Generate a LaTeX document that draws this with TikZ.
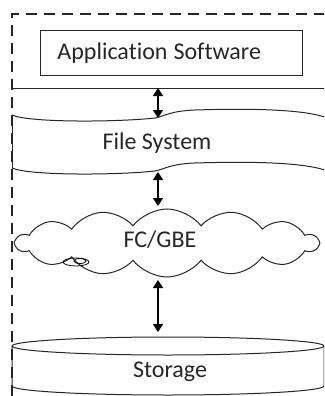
\documentclass[tikz,border=0pt]{standalone}
\usepackage{fontspec}
\setmainfont{Carlito}[Ligatures=NoCommon]
\usetikzlibrary{arrows.meta,shapes.symbols}
\tikzset{
  layerbox/.style={draw=black!85, line width=0.9pt, align=left, font=\fontsize{24}{28}\selectfont},
  layerline/.style={draw=black!85, line width=1pt},
  layertext/.style={text=black!85, font=\fontsize{24}{28}\selectfont, inner sep=0pt},
  framedash/.style={draw=black!85, line width=1.6pt, dash pattern=on 11pt off 7pt},
  layerarrow/.style={{Triangle[width=10pt,length=8pt]}-{Triangle[width=10pt,length=8pt]}, line width=1.4pt, draw=black}
}

\begin{document}
\begin{tikzpicture}[x=1pt,y=-1pt]
\useasboundingbox (0,0) rectangle (324,396);
\clip (0,0) rectangle (324,396);
% outer frame
\draw[framedash] (12,396) -- (12,14) -- (330,14);
% application layer
\node[layerbox, text=black!85, minimum height=45pt, text width=228pt, inner xsep=17pt, anchor=north west] (app) at (40,30) {Application\hspace{-2pt} Software};
\draw[layerline] (12,88) -- (330,88);
\coordinate (appbase) at (158,88);
% file system
\foreach \dy in {0,53}{
  \draw[layerline, yshift=-\dy pt] (12,115) .. controls (30,123) and (120,122) .. (155,118)
    .. controls (165,116) and (170,111) .. (195,110)
    .. controls (260,108) and (310,110) .. (330,119);
}
\draw[layerline] (12,115) -- (12,168);
\node[layertext] (fs) at (157,143) {File System};
\coordinate (fstop) at (158,118);
\coordinate (fsbot) at (158,172);
% network
\node[cloud, draw=black!85, line width=1pt, cloud puffs=14, cloud puff arc=105, aspect=4.3,
  minimum width=302pt, minimum height=68pt] (net) at (167,243) {};
\node[layertext] (netlbl) at (160,240) {FC/GBE};
\draw[line width=0.8pt] (76,262) ellipse[x radius=13, y radius=4];
\draw[line width=0.8pt] (80,261) ellipse[x radius=6, y radius=2.5];
\coordinate (nettop) at (158,206);
\coordinate (netbot) at (158,280);
% storage
\draw[layerline] (12,346) -- (12,386) arc[start angle=180, end angle=0, x radius=156, y radius=9] -- (324,346);
\draw[layerline] (168,346) ellipse[x radius=156, y radius=9];
\node[layertext] (store) at (170,372) {Storage};
\coordinate (sttop) at (158,332);
% connectors
\draw[layerarrow] (appbase) -- (fstop);
\draw[layerarrow] (fsbot) -- (nettop);
\draw[layerarrow] (netbot) -- (sttop);
\end{tikzpicture}
\end{document}
